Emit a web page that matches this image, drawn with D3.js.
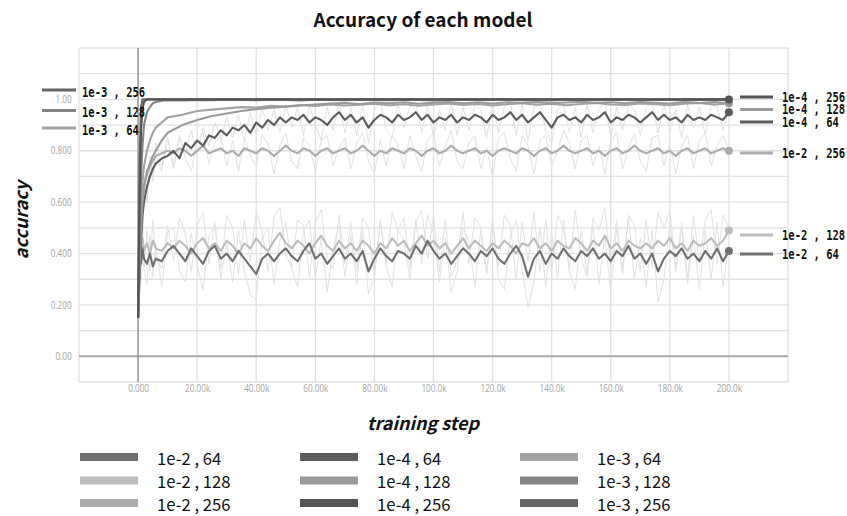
<!DOCTYPE html>
<html>
<head>
<meta charset="utf-8">
<script src="https://cdn.jsdelivr.net/npm/d3@7"></script>
<style>
  body { margin: 0; background: #fff; }
  svg { display: block; }
</style>
</head>
<body>
<div id="chart-area"></div>
<script>
// training steps (thousands)
var stepsFine = [0,0.5,1,1.5,2,3,4,5,6,8,10,
  12,14,16,18,20,22,24,26,28,30,32,34,36,38,40,42,44,46,48,50,
  52,54,56,58,60,62,64,66,68,70,72,74,76,78,80,82,84,86,88,90,
  92,94,96,98,100,102,104,106,108,110,112,114,116,118,120,122,124,126,128,130,
  132,134,136,138,140,142,144,146,148,150,152,154,156,158,160,162,164,166,168,170,
  172,174,176,178,180,182,184,186,188,190,192,194,196,198,200];
var stepsCoarse = [0,0.5,1,1.5,2,3,4,5,6,8,10,
  15,20,25,30,35,40,45,50,55,60,65,70,75,80,85,90,95,100,
  105,110,115,120,125,130,135,140,145,150,155,160,165,170,175,180,185,190,195,200];

// smoothed accuracy
var acc_1e2_64 = [0.15,0.45,0.36,0.42,0.38,0.36,0.40,0.35,0.38,0.37,0.41,
  0.43,0.40,0.37,0.42,0.39,0.36,0.41,0.43,0.38,0.40,
  0.37,0.41,0.38,0.35,0.32,0.38,0.40,0.37,0.40,0.42,
  0.39,0.37,0.41,0.44,0.38,0.40,0.36,0.39,0.42,0.38,
  0.40,0.37,0.41,0.33,0.38,0.42,0.39,0.37,0.41,0.40,
  0.38,0.43,0.40,0.45,0.41,0.38,0.40,0.36,0.39,0.42,
  0.40,0.37,0.41,0.39,0.42,0.38,0.36,0.40,0.43,0.39,
  0.31,0.38,0.41,0.36,0.40,0.38,0.42,0.39,0.37,0.41,
  0.39,0.42,0.38,0.40,0.37,0.41,0.39,0.43,0.38,0.40,
  0.36,0.40,0.33,0.38,0.41,0.39,0.42,0.38,0.40,0.37,
  0.41,0.38,0.42,0.37,0.41];
var raw_1e2_64 = [0.15,0.52,0.30,0.46,0.34,0.28,0.47,0.31,0.44,0.27,0.48,
  0.50,0.33,0.29,0.48,0.35,0.26,0.47,0.51,0.30,0.44,
  0.29,0.49,0.33,0.24,0.22,0.46,0.50,0.28,0.45,0.52,
  0.34,0.27,0.49,0.53,0.30,0.46,0.25,0.42,0.51,0.31,
  0.47,0.28,0.50,0.24,0.31,0.52,0.35,0.27,0.49,0.45,
  0.30,0.53,0.36,0.55,0.48,0.29,0.46,0.25,0.33,0.50,
  0.45,0.27,0.49,0.32,0.52,0.30,0.26,0.47,0.53,0.34,
  0.19,0.29,0.50,0.27,0.48,0.31,0.53,0.33,0.26,0.49,
  0.32,0.51,0.28,0.47,0.25,0.50,0.34,0.54,0.30,0.46,
  0.27,0.49,0.21,0.30,0.52,0.33,0.50,0.28,0.47,0.26,
  0.49,0.30,0.52,0.27,0.44];
var acc_1e2_128 = [0.15,0.50,0.42,0.46,0.41,0.44,0.40,0.45,0.42,0.41,0.44,
  0.42,0.45,0.43,0.40,0.44,0.46,0.42,0.44,0.41,0.45,
  0.43,0.40,0.44,0.42,0.46,0.43,0.41,0.45,0.48,0.44,
  0.42,0.45,0.43,0.40,0.44,0.47,0.43,0.41,0.45,0.42,
  0.44,0.41,0.45,0.43,0.40,0.44,0.42,0.46,0.43,0.45,
  0.41,0.44,0.47,0.43,0.45,0.42,0.44,0.40,0.43,0.46,
  0.42,0.45,0.43,0.41,0.44,0.42,0.45,0.43,0.40,0.44,
  0.43,0.46,0.42,0.44,0.41,0.45,0.43,0.42,0.46,0.44,
  0.41,0.45,0.43,0.47,0.42,0.44,0.41,0.45,0.43,0.42,
  0.44,0.42,0.45,0.43,0.46,0.42,0.44,0.41,0.45,0.43,
  0.44,0.46,0.43,0.45,0.49];
var raw_1e2_128 = [0.15,0.55,0.38,0.52,0.35,0.49,0.33,0.53,0.39,0.34,0.51,
  0.37,0.54,0.48,0.33,0.51,0.56,0.36,0.52,0.34,0.55,
  0.50,0.32,0.53,0.37,0.56,0.49,0.33,0.54,0.58,0.39,
  0.35,0.53,0.51,0.31,0.52,0.57,0.38,0.34,0.55,0.36,
  0.52,0.33,0.54,0.50,0.31,0.53,0.36,0.56,0.49,0.54,
  0.34,0.52,0.57,0.38,0.55,0.33,0.53,0.31,0.37,0.56,
  0.36,0.54,0.50,0.32,0.53,0.35,0.55,0.51,0.30,0.52,
  0.37,0.56,0.33,0.53,0.32,0.55,0.50,0.34,0.57,0.38,
  0.31,0.54,0.49,0.58,0.35,0.53,0.32,0.55,0.51,0.33,
  0.53,0.35,0.56,0.50,0.57,0.34,0.52,0.30,0.55,0.37,
  0.53,0.57,0.36,0.55,0.50];
var acc_1e2_256 = [0.15,0.40,0.52,0.60,0.66,0.71,0.74,0.76,0.78,0.79,0.80,
  0.79,0.81,0.80,0.78,0.80,0.82,0.79,0.80,0.81,0.79,
  0.80,0.78,0.81,0.80,0.79,0.81,0.80,0.78,0.80,0.82,
  0.80,0.79,0.81,0.80,0.78,0.80,0.81,0.79,0.80,0.81,
  0.79,0.80,0.82,0.80,0.78,0.80,0.79,0.81,0.80,0.79,
  0.81,0.80,0.78,0.80,0.81,0.79,0.80,0.82,0.80,0.79,
  0.80,0.81,0.79,0.80,0.78,0.80,0.81,0.80,0.79,0.81,
  0.80,0.78,0.80,0.81,0.79,0.80,0.82,0.80,0.79,0.80,
  0.81,0.79,0.80,0.78,0.80,0.81,0.79,0.80,0.82,0.80,
  0.79,0.80,0.81,0.79,0.80,0.78,0.80,0.81,0.79,0.80,
  0.81,0.79,0.80,0.81,0.80];
var raw_1e2_256 = [0.15,0.35,0.55,0.52,0.70,0.64,0.78,0.70,0.83,0.74,0.85,
  0.73,0.86,0.77,0.72,0.84,0.87,0.75,0.83,0.86,0.74,
  0.84,0.72,0.85,0.78,0.74,0.86,0.83,0.71,0.82,0.87,
  0.76,0.73,0.85,0.82,0.72,0.84,0.86,0.74,0.81,0.85,
  0.73,0.83,0.87,0.76,0.71,0.84,0.74,0.86,0.82,0.73,
  0.86,0.78,0.72,0.84,0.87,0.74,0.82,0.88,0.76,0.73,
  0.83,0.86,0.73,0.81,0.70,0.85,0.87,0.77,0.72,0.86,
  0.82,0.71,0.84,0.86,0.74,0.80,0.88,0.83,0.73,0.84,
  0.86,0.74,0.82,0.71,0.84,0.87,0.73,0.81,0.87,0.76,
  0.72,0.85,0.86,0.74,0.83,0.71,0.82,0.86,0.73,0.84,
  0.87,0.74,0.82,0.86,0.80];
var acc_1e4_64 = [0.15,0.30,0.45,0.55,0.60,0.66,0.70,0.73,0.75,0.77,0.78,
  0.80,0.77,0.83,0.81,0.84,0.82,0.86,0.85,0.88,0.86,
  0.89,0.88,0.90,0.87,0.91,0.89,0.92,0.90,0.93,0.91,
  0.93,0.92,0.94,0.91,0.93,0.92,0.90,0.93,0.95,0.92,
  0.94,0.91,0.93,0.89,0.92,0.94,0.93,0.91,0.94,0.92,
  0.93,0.95,0.92,0.94,0.91,0.93,0.92,0.94,0.91,0.93,
  0.92,0.94,0.93,0.91,0.94,0.92,0.93,0.95,0.92,0.94,
  0.91,0.93,0.95,0.92,0.89,0.93,0.94,0.92,0.93,0.91,
  0.94,0.92,0.93,0.95,0.91,0.93,0.92,0.94,0.93,0.91,
  0.93,0.95,0.92,0.94,0.92,0.93,0.91,0.94,0.92,0.93,
  0.92,0.94,0.93,0.92,0.95];
var raw_1e4_64 = [0.15,0.25,0.50,0.48,0.65,0.60,0.74,0.68,0.79,0.72,0.85,
  0.74,0.85,0.79,0.88,0.78,0.89,0.82,0.91,0.84,0.93,
  0.85,0.94,0.84,0.95,0.86,0.97,0.88,0.96,0.87,0.98,
  0.89,0.97,0.86,0.98,0.90,0.84,0.97,0.88,0.99,0.87,
  0.97,0.86,0.98,0.83,0.96,0.99,0.88,0.85,0.98,0.89,
  0.97,0.99,0.87,0.98,0.85,0.96,0.88,0.99,0.86,0.97,
  0.88,0.98,0.96,0.85,0.99,0.87,0.97,0.99,0.86,0.98,
  0.84,0.97,0.99,0.88,0.83,0.96,0.98,0.87,0.97,0.85,
  0.98,0.87,0.96,0.99,0.85,0.97,0.88,0.98,0.96,0.86,
  0.97,0.99,0.87,0.98,0.88,0.96,0.85,0.98,0.89,0.97,
  0.86,0.98,0.97,0.88,0.96];
var acc_1e4_128 = [0.15,0.35,0.50,0.60,0.66,0.72,0.75,0.78,0.80,0.84,0.87,
  0.90,0.92,0.935,0.945,0.955,0.962,0.968,0.972,0.976,0.98,
  0.984,0.986,0.982,0.988,0.985,0.989,0.983,0.987,0.99,0.985,
  0.988,0.984,0.989,0.986,0.99,0.985,0.988,0.991,0.986,0.989,
  0.985,0.99,0.987,0.984,0.989,0.986,0.99,0.985];
var acc_1e4_256 = [0.15,0.60,0.88,0.96,0.99,1.0,1.0,1.0,1.0,1.0,1.0,
  1.0,1.0,1.0,1.0,1.0,1.0,1.0,1.0,1.0,1.0,
  1.0,1.0,1.0,1.0,1.0,1.0,1.0,1.0,1.0,1.0,
  1.0,1.0,1.0,1.0,1.0,1.0,1.0,1.0,1.0,1.0,
  1.0,1.0,1.0,1.0,1.0,1.0,1.0,1.0];
var acc_1e3_64 = [0.15,0.40,0.58,0.68,0.74,0.80,0.84,0.87,0.89,0.91,0.93,
  0.94,0.955,0.96,0.965,0.97,0.968,0.975,0.972,0.978,0.974,
  0.98,0.976,0.979,0.983,0.977,0.981,0.975,0.98,0.984,0.978,
  0.982,0.976,0.981,0.985,0.979,0.983,0.977,0.982,0.986,0.98,
  0.978,0.984,0.981,0.977,0.983,0.986,0.98,0.984];
var acc_1e3_128 = [0.15,0.45,0.70,0.82,0.90,0.95,0.97,0.985,0.99,0.995,0.997,
  0.996,0.998,0.997,0.999,0.998,0.997,0.999,0.998,0.996,0.999,
  0.998,0.997,0.999,0.998,0.997,0.999,0.998,0.996,0.998,0.999,
  0.997,0.998,0.999,0.997,0.998,0.996,0.999,0.998,0.997,0.999,
  0.998,0.997,0.999,0.998,0.996,0.998,0.999,0.998];
var acc_1e3_256 = [0.15,0.75,0.97,1.0,1.0,1.0,1.0,1.0,1.0,1.0,1.0,
  1.0,1.0,1.0,1.0,1.0,1.0,1.0,1.0,1.0,1.0,
  1.0,1.0,1.0,1.0,1.0,1.0,1.0,1.0,1.0,1.0,
  1.0,1.0,1.0,1.0,1.0,1.0,1.0,1.0,1.0,1.0,
  1.0,1.0,1.0,1.0,1.0,1.0,1.0,1.0];

// series names and colours
var names = ["1e-2 , 64", "1e-2 , 128", "1e-2 , 256",
             "1e-4 , 64", "1e-4 , 128", "1e-4 , 256",
             "1e-3 , 64", "1e-3 , 128", "1e-3 , 256"];
var colors = ["#707070", "#bdbdbd", "#adadad",
              "#5c5c5c", "#9a9a9a", "#555555",
              "#a3a3a3", "#858585", "#666666"];

// ticks
var xTickValues = [0, 20, 40, 60, 80, 100, 120, 140, 160, 180, 200];
var xTickLabels = ["0.000", "20.00k", "40.00k", "60.00k", "80.00k", "100.0k",
                   "120.0k", "140.0k", "160.0k", "180.0k", "200.0k"];
var yTickValues = [0, 0.2, 0.4, 0.6, 0.8, 1.0];
var yTickLabels = ["0.00", "0.200", "0.400", "0.600", "0.800", "1.00"];

// SVG drawing area
var W = 847, H = 516;
var margin = {top: 48, right: 59, bottom: 134, left: 79};
var width = W - margin.left - margin.right,
    height = H - margin.top - margin.bottom;

var root = d3.select("#chart-area").append("svg")
    .attr("width", W)
    .attr("height", H);

var svg = root.append("g")
    .attr("transform", "translate(" + margin.left + "," + margin.top + ")");

var x = d3.scaleLinear().domain([-20, 220]).range([0, width]);
var y = d3.scaleLinear().domain([-0.1, 1.2]).range([height, 0]);

// squeezed text helper (the source image is horizontally condensed)
function addText(g, px, py, str, o) {
    return g.append("text")
        .attr("transform", "translate(" + px + "," + py + ") scale(" + (o.sx || 1) + ",1)" + (o.rot ? " rotate(" + o.rot + ")" : ""))
        .attr("text-anchor", o.anchor || "start")
        .attr("dominant-baseline", "central")
        .style("font-family", o.font || "'Noto Sans CJK KR', 'Noto Sans', sans-serif")
        .style("font-size", o.size + "px")
        .style("font-weight", o.weight || "normal")
        .style("font-style", o.style || "normal")
        .style("fill", o.fill || "#111")
        .style("white-space", "pre")
        .text(str);
}

// grid
svg.append("g").selectAll("line.h")
    .data(d3.range(-1, 13).map(function (i) { return i / 10; }))
    .enter().append("line")
    .attr("x1", 0).attr("x2", width)
    .attr("y1", function (d) { return y(d); })
    .attr("y2", function (d) { return y(d); })
    .style("stroke", "#e2e2e2").style("stroke-width", 1.3);

svg.append("g").selectAll("line.v")
    .data(d3.range(-20, 221, 20))
    .enter().append("line")
    .attr("x1", function (d) { return x(d); })
    .attr("x2", function (d) { return x(d); })
    .attr("y1", 0).attr("y2", height)
    .style("stroke", "#e2e2e2").style("stroke-width", 1.3);

// zero lines
svg.append("line")
    .attr("x1", 0).attr("x2", width)
    .attr("y1", y(0)).attr("y2", y(0))
    .style("stroke", "#a8a8a8").style("stroke-width", 2);
svg.append("line")
    .attr("x1", x(0)).attr("x2", x(0))
    .attr("y1", 0).attr("y2", height)
    .style("stroke", "#9a9a9a").style("stroke-width", 1.5);

// axes
var xAxis = svg.append("g")
    .attr("transform", "translate(0," + height + ")")
    .call(d3.axisBottom(x).tickValues(xTickValues)
        .tickFormat(function (d, i) { return xTickLabels[i]; })
        .tickSize(0).tickPadding(3));
xAxis.select(".domain").remove();
xAxis.selectAll("text")
    .attr("transform", "scale(0.82,1)")
    .style("font-family", "'Open Sans', sans-serif")
    .style("font-size", "10px")
    .style("fill", "#a5a5a5");

var yAxis = svg.append("g")
    .call(d3.axisLeft(y).tickValues(yTickValues)
        .tickFormat(function (d, i) { return yTickLabels[i]; })
        .tickSize(0).tickPadding(9));
yAxis.select(".domain").remove();
yAxis.selectAll("text")
    .attr("transform", "scale(0.82,1)")
    .style("font-family", "'Open Sans', sans-serif")
    .style("font-size", "10px")
    .style("fill", "#a5a5a5");

// lines
var line = d3.line()
    .x(function (d) { return x(d[0]); })
    .y(function (d) { return y(d[1]); });

function zip(steps, vals) {
    var n = Math.min(steps.length, vals.length);
    var out = [];
    for (var i = 0; i < n; i++) out.push([steps[i], vals[i]]);
    return out;
}

var raws = [
    [stepsFine, raw_1e2_64],
    [stepsFine, raw_1e2_128],
    [stepsFine, raw_1e2_256],
    [stepsFine, raw_1e4_64]
];
raws.forEach(function (r) {
    svg.append("path")
        .datum(zip(r[0], r[1]))
        .attr("d", line)
        .style("fill", "none")
        .style("stroke", "#e2e2e2")
        .style("stroke-width", 1);
});

// draw order: low series first, top ones last
var smooth = [
    {i: 1, steps: stepsFine, vals: acc_1e2_128, dot: true},
    {i: 0, steps: stepsFine, vals: acc_1e2_64, dot: true},
    {i: 2, steps: stepsFine, vals: acc_1e2_256, dot: true},
    {i: 3, steps: stepsFine, vals: acc_1e4_64, dot: true},
    {i: 6, steps: stepsCoarse, vals: acc_1e3_64, dot: false},
    {i: 4, steps: stepsCoarse, vals: acc_1e4_128, dot: true},
    {i: 7, steps: stepsCoarse, vals: acc_1e3_128, dot: false},
    {i: 8, steps: stepsCoarse, vals: acc_1e3_256, dot: false},
    {i: 5, steps: stepsCoarse, vals: acc_1e4_256, dot: true}
];
smooth.forEach(function (s) {
    var pts = zip(s.steps, s.vals);
    svg.append("path")
        .datum(pts)
        .attr("d", line)
        .style("fill", "none")
        .style("stroke", colors[s.i])
        .style("stroke-width", 2.1)
        .style("stroke-linejoin", "round");
    if (s.dot) {
        var last = pts[pts.length - 1];
        svg.append("circle")
            .attr("cx", x(last[0])).attr("cy", y(last[1]))
            .attr("r", 4)
            .style("fill", colors[s.i]);
    }
});

// side legends
var monoFont = "'DejaVu Sans Mono', monospace";
var leftLegend = [{i: 8, y: 90}, {i: 7, y: 110.5}, {i: 6, y: 128}];
leftLegend.forEach(function (d) {
    root.append("line")
        .attr("x1", 42).attr("x2", 76)
        .attr("y1", d.y).attr("y2", d.y)
        .style("stroke", colors[d.i]).style("stroke-width", 3);
    addText(root, 82, d.y + 2, names[d.i], {size: 14, weight: "bold", font: monoFont, sx: 0.75});
});

var rightLegend = [{i: 5, y: 97}, {i: 4, y: 109.5}, {i: 3, y: 122},
                   {i: 2, y: 153}, {i: 1, y: 235}, {i: 0, y: 254}];
rightLegend.forEach(function (d) {
    root.append("line")
        .attr("x1", 740).attr("x2", 773)
        .attr("y1", d.y).attr("y2", d.y)
        .style("stroke", colors[d.i]).style("stroke-width", 3);
    addText(root, 782, d.y, names[d.i], {size: 14, weight: "bold", font: monoFont, sx: 0.75});
});

// titles
addText(root, 423, 18, "Accuracy of each model", {size: 19, weight: "bold", anchor: "middle"});
addText(root, 423, 422, "training step", {size: 18, weight: "bold", style: "italic", anchor: "middle"});
addText(root, 20, 220, "accuracy", {size: 18, weight: "bold", style: "italic", anchor: "middle", rot: -90});

// bottom legend: columns 1e-2, 1e-4, 1e-3
var colX = [80, 300, 520];
var rowY = [457, 480.5, 503];
names.forEach(function (n, k) {
    var c = Math.floor(k / 3), r = k % 3;
    root.append("rect")
        .attr("x", colX[c]).attr("y", rowY[r] - 4)
        .attr("width", 58).attr("height", 8)
        .style("fill", colors[k]);
    addText(root, colX[c] + 77, rowY[r], n, {size: 17, sx: 0.98});
});
</script>
</body>
</html>
